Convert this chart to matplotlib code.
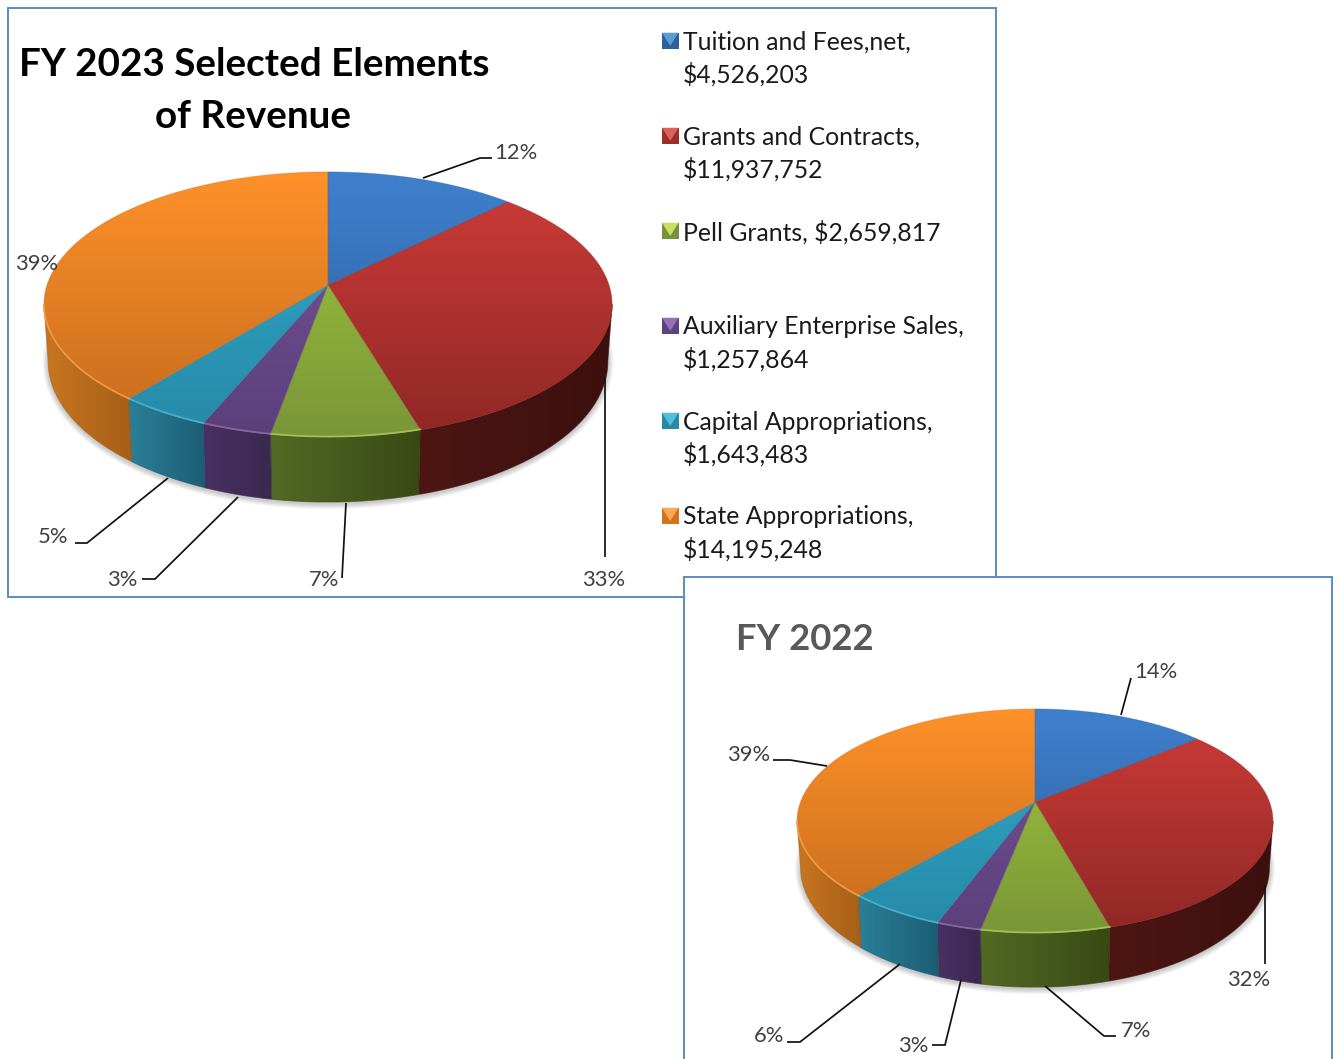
import numpy as np
import matplotlib
matplotlib.use("Agg")
import matplotlib.pyplot as plt
from matplotlib.colors import to_rgb
from matplotlib.patches import Polygon, Rectangle

plt.rcParams["font.family"] = ["Lato", "DejaVu Sans"]

# ---- data ----
categories = ["Tuition and Fees,net", "Grants and Contracts", "Pell Grants",
              "Auxiliary Enterprise Sales", "Capital Appropriations", "State Appropriations"]
revenue_2023 = [4526203, 11937752, 2659817, 1257864, 1643483, 14195248]
share_2022 = [13.9, 31.8, 7.4, 2.6, 5.7, 38.6]

# ---- slice colours ----
top_light = ["#3F80CE", "#CF3C38", "#A0C83F", "#7A5599", "#31A9CC", "#FF9129"]
top_dark = ["#2A5F99", "#8F2826", "#7A9637", "#5B3F7B", "#268AA6", "#C46A1E"]
side_light = ["#1F4A7A", "#4E1613", "#526A24", "#4A3062", "#2A8099", "#C9761F"]
side_dark = ["#1F4A7A", "#3C100E", "#394915", "#3A2950", "#1B5E74", "#A65E17"]
swatch_edge = ["#2F5F97", "#9A2F2C", "#76923A", "#5E4280", "#2A8AA5", "#D0741F"]
swatch_face = ["#5B9BD8", "#E0605C", "#C8E060", "#9470B8", "#50C0DC", "#FBA84E"]

FRAME = "#5B8CC0"
LEADER = "#111111"
LABEL = "#404040"

W, H = 1338, 1059
fig = plt.figure(figsize=(W / 100, H / 100), dpi=100)
ax = fig.add_axes([0, 0, 1, 1])


def px(size):
    return size * 0.72


def project(theta, g):
    """Map a clock angle on the disc to the perspective-foreshortened top face."""
    u, v = np.sin(theta), np.cos(theta)
    d = 1 + g["k"] * v
    return g["cx"] + g["rx"] * u / d, g["cy"] - g["ry"] * v / d


def project_base(theta, g):
    u, v = np.sin(theta), np.cos(theta)
    d = 1 + g["k"] * v
    x = g["cx"] + g["shrink"] * g["rx"] * u / d
    y = g["cy"] - g["ry"] * v / d + g["depth"] / d
    return x, y


def gradient_fill(pts, c1, c2, extent, horizontal, z, edge, edge_alpha):
    n = 128
    ramp = np.linspace(0, 1, n)[:, None]
    a, b = np.array(to_rgb(c1)), np.array(to_rgb(c2))
    rgb = a[None, :] * (1 - ramp) + b[None, :] * ramp
    img = rgb[None, :, :] if horizontal else rgb[:, None, :]
    patch = Polygon(pts, closed=True, transform=ax.transData, fc="none", ec="none")
    ax.add_patch(patch)
    im = ax.imshow(img, extent=extent, aspect="auto", zorder=z, interpolation="bilinear")
    im.set_clip_path(patch)
    # a hairline softens the clip's jagged edge
    ax.add_patch(Polygon(pts, closed=True, fc="none", ec=edge, lw=0.7, alpha=edge_alpha,
                         zorder=z + 0.01))


def draw_pie(values, g, z0):
    vals = np.asarray(values, dtype=float)
    edges = np.concatenate([[0], np.cumsum(vals / vals.sum())]) * 2 * np.pi
    right = np.arccos(-g["k"])
    left = 2 * np.pi - right

    # soft shadow around the lower silhouette
    t = np.linspace(right - 0.25, left + 0.25, 300)
    xs, ys = project_base(t, g)
    for lw in np.linspace(8, 1, 7):
        ax.plot(xs, ys + 1.5, color="#000000", alpha=0.03, lw=lw, zorder=z0,
                solid_capstyle="round")

    # outer wall
    for i in range(len(vals)):
        a0, a1 = max(edges[i], right), min(edges[i + 1], left)
        if a1 <= a0:
            continue
        t = np.linspace(a0, a1, 120)
        xt, yt = project(t, g)
        xb, yb = project_base(t, g)
        pts = np.r_[np.c_[xt, yt], np.c_[xb, yb][::-1]]
        x0, x1 = pts[:, 0].min(), pts[:, 0].max()
        y0, y1 = pts[:, 1].min(), pts[:, 1].max()
        gradient_fill(pts, side_light[i], side_dark[i], (x0, x1, y1, y0), True, z0 + 1,
                      side_dark[i], 0.6)

    # top face
    y_top = project(np.array([0.0]), g)[1][0]
    y_bot = project(np.array([np.pi]), g)[1][0]
    x_l = g["cx"] - g["rx"] * 1.03
    x_r = g["cx"] + g["rx"] * 1.03
    for i in range(len(vals)):
        t = np.linspace(edges[i], edges[i + 1], 240)
        xt, yt = project(t, g)
        pts = np.r_[[[g["cx"], g["cy"]]], np.c_[xt, yt]]
        gradient_fill(pts, top_light[i], top_dark[i], (x_l, x_r, y_bot, y_top), False, z0 + 2,
                      top_dark[i], 0.35)

    # bevel along the near part of the disc's rim
    for i in range(len(vals)):
        if i == 1:
            continue
        t = np.linspace(edges[i], edges[i + 1], 240)
        vis = (t > right) & (t < left)
        if not vis.any():
            continue
        xt, yt = project(t[vis], g)
        lc = np.array(to_rgb(top_light[i]))
        ax.plot(xt, yt - 0.5, color=lc + (1 - lc) * 0.2, lw=1.3, alpha=0.7, zorder=z0 + 3)
    return edges


def polyline(xy, z):
    xy = np.array(xy, float)
    ax.plot(xy[:, 0], xy[:, 1], color=LEADER, lw=1.25, zorder=z, solid_capstyle="butt",
            solid_joinstyle="miter")


def pct_labels(values):
    v = np.asarray(values, dtype=float)
    return [f"{round(100 * x / v.sum())}%" for x in v]


# ---- FY 2023 panel ----
ax.add_patch(Rectangle((8, 8), 988, 589, fc="white", ec=FRAME, lw=1.4, zorder=1))

pie_2023 = dict(cx=328, cy=285, rx=281, ry=129.7, k=0.147, depth=55.5, shrink=0.985)
draw_pie(revenue_2023, pie_2023, 2)

leaders_2023 = [
    [(423, 178), (480, 158), (492, 158)],
    [(605, 378), (605, 557)],
    [(346, 503), (342, 578)],
    [(238, 497), (155, 579), (142, 579)],
    [(168, 478), (87, 543), (75, 543)],
]
for seg in leaders_2023:
    polyline(seg, 8)

label_pos_2023 = [(494, 153), (582, 580), (309, 580), (107, 580), (38, 537), (15, 264)]
for s, (x, y) in zip(pct_labels(revenue_2023), label_pos_2023):
    ax.text(x, y, s, color=LABEL, fontsize=px(22), ha="left", va="center", zorder=9)

ax.text(254, 65, "FY 2023 Selected Elements", fontsize=px(38.6), fontweight="bold",
        color="black", ha="center", va="center", zorder=9)
ax.text(253, 117, "of Revenue", fontsize=px(38.6), fontweight="bold",
        color="black", ha="center", va="center", zorder=9)

# legend: bevelled swatches with wrapped name and amount
single_line = {"Pell Grants"}
for i, (name, amount) in enumerate(zip(categories, revenue_2023)):
    y = 41 + 95 * i
    x0, s = 662, 16.5
    top = y - s / 2
    ax.add_patch(Rectangle((x0, top), s, s, fc=swatch_edge[i], ec="none", zorder=9))
    tri = [(x0, top), (x0 + s, top), (x0 + s / 2, top + s * 0.8)]
    ax.add_patch(Polygon(tri, closed=True, fc=swatch_face[i], ec="none", zorder=9.1))
    money = f"${amount:,}"
    if name in single_line:
        ax.text(683, y + 1, f"{name}, {money}", fontsize=px(24.7), color="#1A1A1A",
                ha="left", va="center", zorder=9)
    else:
        ax.text(683, y + 1, f"{name},", fontsize=px(24.7), color="#1A1A1A",
                ha="left", va="center", zorder=9)
        ax.text(683, y + 33, money, fontsize=px(24.7), color="#1A1A1A",
                ha="left", va="center", zorder=9)

# ---- FY 2022 panel ----
ax.add_patch(Rectangle((684, 577), 648, 520, fc="white", ec=FRAME, lw=1.4, zorder=10))

pie_2022 = dict(cx=1035, cy=802, rx=234.5, ry=108.8, k=0.1697, depth=45, shrink=0.985)
draw_pie(share_2022, pie_2022, 11)

leaders_2022 = [
    [(1121, 715), (1131, 678)],
    [(1265, 885), (1265, 964)],
    [(1045, 986), (1104, 1036), (1116, 1036)],
    [(961, 980), (945, 1045), (932, 1045)],
    [(900, 964), (800, 1042), (787, 1042)],
    [(827, 766), (790, 760), (773, 760)],
]
for seg in leaders_2022:
    polyline(seg, 17)

label_pos_2022 = [(1134, 672), (1227, 980), (1121, 1031), (898, 1046), (754, 1036), (727, 755)]
for s, (x, y) in zip(pct_labels(share_2022), label_pos_2022):
    ax.text(x, y, s, color=LABEL, fontsize=px(22), ha="left", va="center", zorder=18)

ax.text(736, 640, "FY 2022", fontsize=px(36.5), fontweight="bold", color="#595959",
        ha="left", va="center", zorder=18)

ax.set_xlim(0, W)
ax.set_ylim(H, 0)
ax.axis("off")
fig.savefig("out.png", dpi=100, facecolor="white")
